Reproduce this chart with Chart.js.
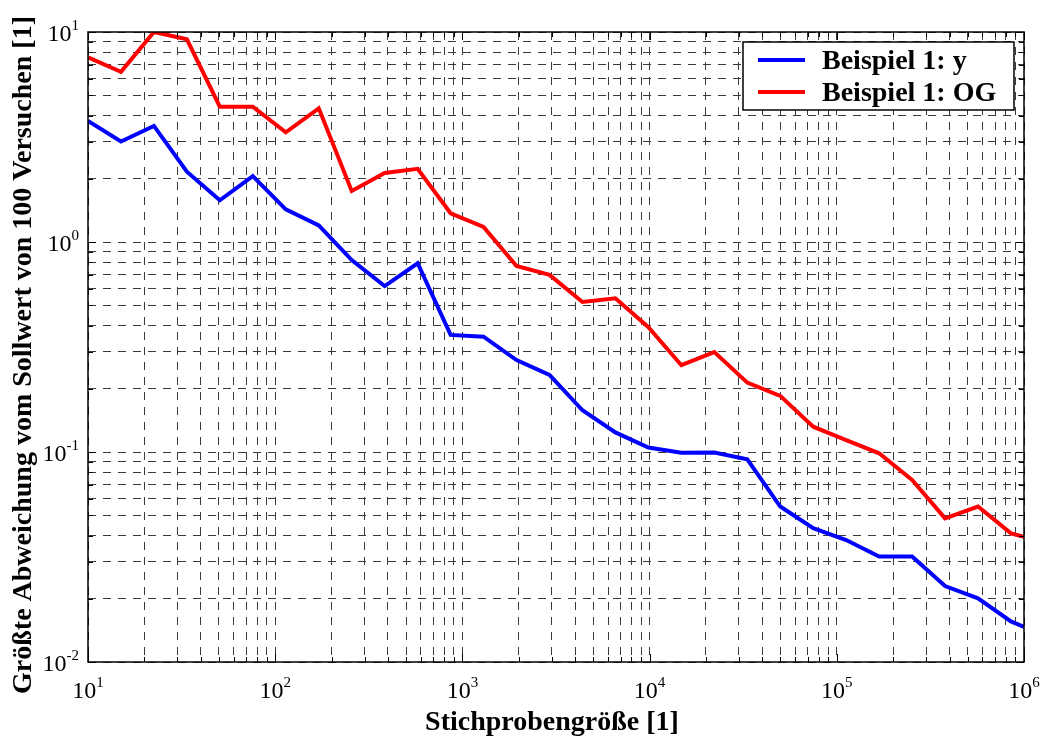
<!DOCTYPE html>
<html>
<head>
<meta charset="utf-8">
<script src="https://cdn.jsdelivr.net/npm/chart.js@4.4.1/dist/chart.umd.min.js"></script>
<style>
  html, body { margin: 0; padding: 0; background: #fff; }
  #wrap { width: 1043px; height: 740px; }
</style>
</head>
<body>
<div id="wrap"><canvas id="chart" width="1043" height="740"></canvas></div>
<script>
// Stichprobengröße (x), Faktor 1.5 pro Schritt, letzter Punkt 10^6
const sampleSizes = [10, 15, 22.5, 33.75, 50.6, 75.9, 113.9, 170.9, 256.3, 384.4,
  576.7, 865, 1297, 1946, 2919, 4379, 6568, 9853, 14779, 22168,
  33253, 49879, 74818, 112227, 168341, 252512, 378768, 568151, 852227, 1000000];

// Beispiel 1: y
const devY = [3.77, 3.01, 3.57, 2.16, 1.58, 2.06, 1.43, 1.20, 0.82, 0.617,
  0.792, 0.361, 0.354, 0.274, 0.233, 0.158, 0.124, 0.105, 0.0993, 0.0995,
  0.0922, 0.055, 0.0434, 0.0381, 0.0318, 0.0318, 0.023, 0.0201, 0.0156, 0.0147];

// Beispiel 1: OG
const devOG = [7.57, 6.47, 10.0, 9.23, 4.41, 4.41, 3.33, 4.33, 1.75, 2.13,
  2.23, 1.37, 1.18, 0.769, 0.697, 0.518, 0.539, 0.393, 0.259, 0.299,
  0.214, 0.185, 0.132, 0.114, 0.0986, 0.0736, 0.0483, 0.055, 0.041, 0.0395];

// tick labels (Zehnerpotenzen)
const xExps = [1, 2, 3, 4, 5, 6];
const yExps = [-2, -1, 0, 1];

const seriesLabels = ['Beispiel 1: y', 'Beispiel 1: OG'];
const seriesColors = ['#0000ff', '#ff0000'];

const xTitle = 'Stichprobengröße [1]';
const yTitle = 'Größte Abweichung vom Sollwert von 100 Versuchen [1]';

const SERIF = "'Liberation Serif', 'Times New Roman', serif";

// 1..9 x 10^e between the first and last exponent
const decadeTicks = (exps) => {
  const out = [];
  for (let i = 0; i < exps.length - 1; i++) {
    for (let m = 1; m <= 9; m++) out.push({ value: m * Math.pow(10, exps[i]) });
  }
  out.push({ value: Math.pow(10, exps[exps.length - 1]) });
  return out;
};

const drawPow = (ctx, x, y, exp, align) => {
  ctx.font = '24px ' + SERIF;
  const baseW = ctx.measureText('10').width;
  ctx.font = '15px ' + SERIF;
  const expTxt = String(exp);
  const expW = ctx.measureText(expTxt).width;
  const total = baseW + expW;
  let left = align === 'right' ? x - total : x - total / 2;
  ctx.textAlign = 'left';
  ctx.textBaseline = 'alphabetic';
  ctx.font = '24px ' + SERIF;
  ctx.fillText('10', left, y);
  ctx.font = '15px ' + SERIF;
  ctx.fillText(expTxt, left + baseW, y - 11);
};

const matlabAxes = {
  id: 'matlabAxes',
  afterDatasetsDraw(chart) {
    const { ctx, chartArea: a, scales: { x, y } } = chart;
    ctx.save();
    ctx.setLineDash([]);
    ctx.strokeStyle = '#000';
    ctx.lineWidth = 1;
    // inner tick marks on all four sides
    ctx.beginPath();
    x.ticks.forEach(t => {
      const px = Math.round(x.getPixelForValue(t.value)) + 0.5;
      const len = Number.isInteger(Math.log10(t.value)) ? 8 : 5;
      ctx.moveTo(px, a.bottom); ctx.lineTo(px, a.bottom - len);
      ctx.moveTo(px, a.top); ctx.lineTo(px, a.top + len);
    });
    y.ticks.forEach(t => {
      const py = Math.round(y.getPixelForValue(t.value)) + 0.5;
      const len = Math.abs(Math.log10(t.value) % 1) < 1e-9 ? 8 : 5;
      ctx.moveTo(a.left, py); ctx.lineTo(a.left + len, py);
      ctx.moveTo(a.right, py); ctx.lineTo(a.right - len, py);
    });
    ctx.stroke();
    // box
    ctx.lineWidth = 1.5;
    ctx.strokeRect(a.left, a.top, a.right - a.left, a.bottom - a.top);

    // tick labels
    ctx.fillStyle = '#000';
    xExps.forEach(e => drawPow(ctx, x.getPixelForValue(Math.pow(10, e)), a.bottom + 36, e, 'center'));
    yExps.forEach(e => drawPow(ctx, a.left - 9, y.getPixelForValue(Math.pow(10, e)) + 9, e, 'right'));

    // axis titles
    ctx.font = 'bold 28px ' + SERIF;
    ctx.textAlign = 'center';
    ctx.textBaseline = 'alphabetic';
    ctx.fillText(xTitle, (a.left + a.right) / 2 - 4, 730);
    ctx.save();
    ctx.translate(31, 355);
    ctx.rotate(-Math.PI / 2);
    ctx.fillText(yTitle, 0, 0);
    ctx.restore();

    // legend box inside top right
    const lx = 743, ly = 42, lw = 271, lh = 68;
    ctx.fillStyle = '#fff';
    ctx.fillRect(lx, ly, lw, lh);
    ctx.strokeStyle = '#000';
    ctx.lineWidth = 1.5;
    ctx.strokeRect(lx, ly, lw, lh);
    chart.data.datasets.forEach((ds, i) => {
      const cy = ly + 18 + i * 32;
      ctx.strokeStyle = ds.borderColor;
      ctx.lineWidth = 4;
      ctx.beginPath();
      ctx.moveTo(lx + 15, cy);
      ctx.lineTo(lx + 62, cy);
      ctx.stroke();
      ctx.fillStyle = '#000';
      ctx.font = 'bold 28px ' + SERIF;
      ctx.textAlign = 'left';
      ctx.textBaseline = 'middle';
      ctx.fillText(ds.label, lx + 79, cy + 2);
    });
    ctx.restore();
  }
};

const gridOpts = {
  color: '#3a3a3a',
  lineWidth: 1,
  drawTicks: false
};

new Chart(document.getElementById('chart').getContext('2d'), {
  type: 'line',
  data: {
    datasets: [devY, devOG].map((vals, i) => ({
      label: seriesLabels[i],
      data: sampleSizes.map((s, k) => ({ x: s, y: vals[k] })),
      borderColor: seriesColors[i],
      backgroundColor: seriesColors[i],
      borderWidth: 4,
      pointRadius: 0,
      tension: 0,
      fill: false
    }))
  },
  options: {
    responsive: false,
    animation: false,
    devicePixelRatio: 1,
    layout: { padding: { top: 32, right: 19, left: 0, bottom: 0 } },
    plugins: { legend: { display: false }, tooltip: { enabled: false } },
    scales: {
      x: {
        type: 'logarithmic',
        min: 10, max: 1e6,
        afterBuildTicks: s => { s.ticks = decadeTicks(xExps); },
        afterFit: s => { s.height = 78; },
        ticks: { display: false },
        grid: gridOpts,
        border: { display: false, dash: [8, 7] }
      },
      y: {
        type: 'logarithmic',
        min: 0.01, max: 10,
        afterBuildTicks: s => { s.ticks = decadeTicks(yExps); },
        afterFit: s => { s.width = 88; },
        ticks: { display: false },
        grid: gridOpts,
        border: { display: false, dash: [8, 7] }
      }
    }
  },
  plugins: [matlabAxes]
});
</script>
</body>
</html>
